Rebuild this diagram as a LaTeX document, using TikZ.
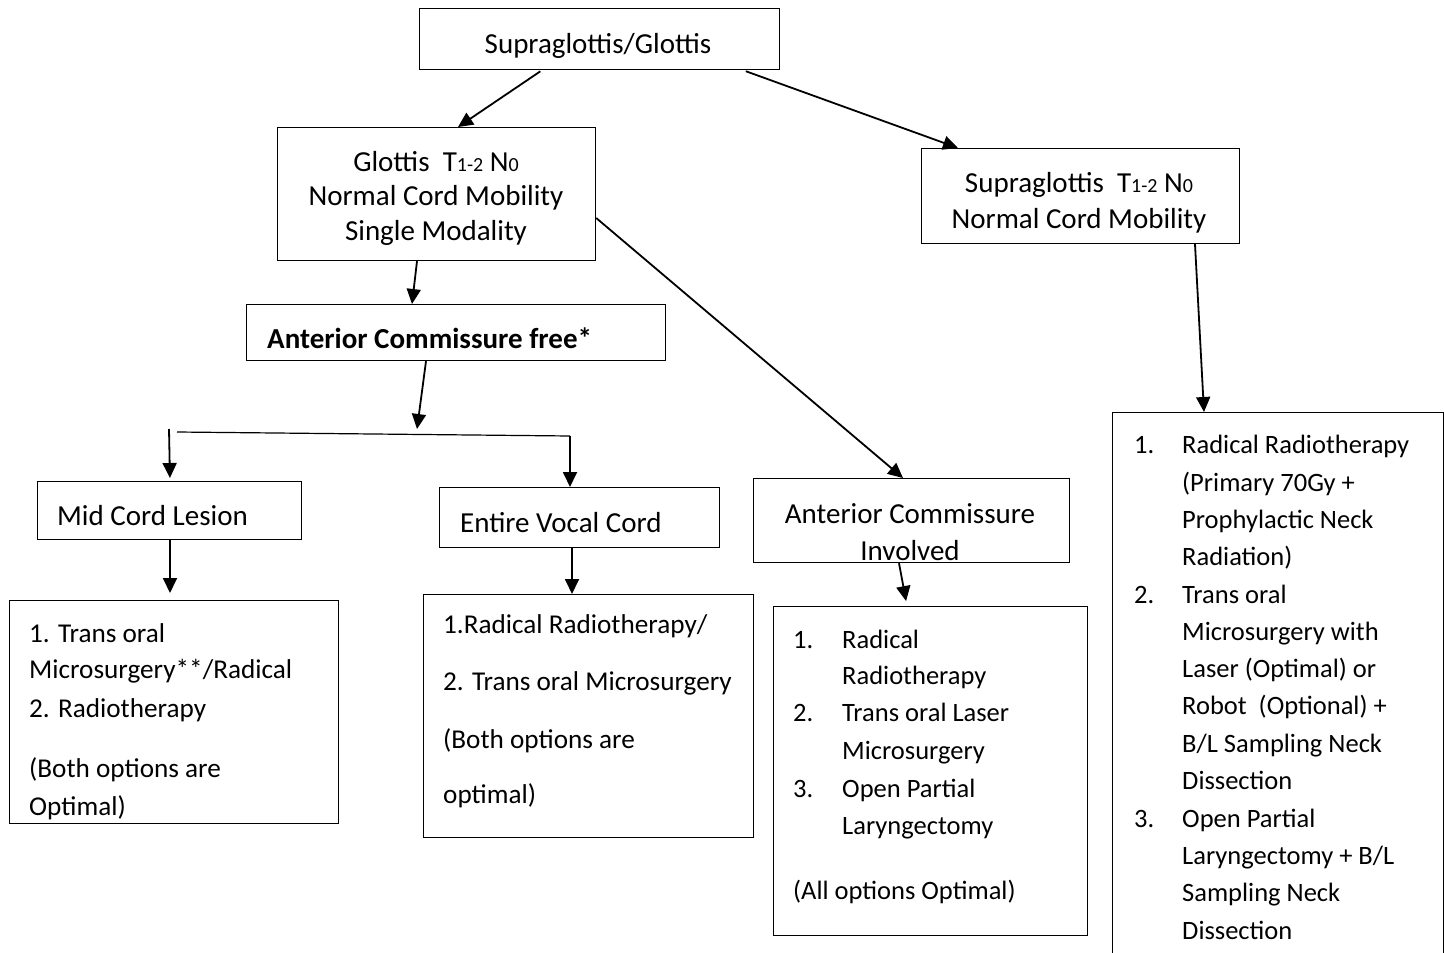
\documentclass[tikz,border=0pt]{standalone}
\usepackage{fontspec}
\setmainfont{Carlito}
\usetikzlibrary{arrows.meta}
\newcommand\smn[1]{{\fontsize{20}{20}\selectfont #1}}
\begin{document}
\begin{tikzpicture}[x=1pt,y=-1pt,
  box/.style={draw, line width=1.2pt, anchor=north west, inner sep=0pt},
  hd/.style={font=\fontsize{29}{35}\selectfont, inner sep=0pt},
  ls/.style={font=\fontsize{26.5}{32}\selectfont, inner sep=0pt, anchor=base west},
  lsb/.style={ls, font=\fontsize{27.2}{32}\selectfont},
  arr/.style={line width=1.8pt, -{Triangle[length=15pt,width=14pt]}},
  thinline/.style={line width=1.2pt}
]
\fill[white] (0,0) rectangle (1444,953);
\useasboundingbox (0,0) rectangle (1444,953);

% boxes
\node[box, minimum width=360pt, minimum height=61pt] (A) at (419,8) {};
\node[box, minimum width=318pt, minimum height=133pt] (B) at (277,127) {};
\node[box, minimum width=318pt, minimum height=95pt] (C) at (921,148) {};
\node[box, minimum width=419pt, minimum height=56pt] (D) at (246,304) {};
\node[box, minimum width=264pt, minimum height=58pt] (E) at (37,481) {};
\node[box, minimum width=280pt, minimum height=60pt] (F) at (439,487) {};
\node[box, minimum width=316pt, minimum height=84pt] (G) at (753,478) {};
\node[box, minimum width=329pt, minimum height=223pt] (H) at (9,600) {};
\node[box, minimum width=330pt, minimum height=243pt] (I) at (423,594) {};
\node[box, minimum width=314pt, minimum height=329pt] (J) at (773,606) {};
\node[box, minimum width=331pt, minimum height=560pt] (K) at (1112,412) {};

% header texts
\node[hd, anchor=base] (tA) at (598,53) {Supraglottis/Glottis};
\node[hd, anchor=base] (tB1) at (436,171) {Glottis\ \ T\smn{1-2} N\smn{0}};
\node[hd, anchor=base] (tB2) at (436,205) {Normal Cord Mobility};
\node[hd, anchor=base] (tB3) at (436,240) {Single Modality};
\node[hd, anchor=base] (tC1) at (1079,192) {Supraglottis\ \ T\smn{1-2} N\smn{0}};
\node[hd, anchor=base] (tC2) at (1079,228) {Normal Cord Mobility};
\node[hd, anchor=base west, font=\fontsize{29}{35}\selectfont\bfseries] (tD) at (267,348) {Anterior Commissure free*};
\node[hd, anchor=base west] (tE) at (57,525) {Mid Cord Lesion};
\node[hd, anchor=base west] (tF) at (460,532) {Entire Vocal Cord};
\node[hd, anchor=base] (tG1) at (910,523) {Anterior Commissure};
\node[hd, anchor=base] (tG2) at (910,560) {Involved};

% H texts
\node[lsb] (h1) at (29,642) {1. Trans oral};
\node[lsb] (h2) at (29,678) {Microsurgery**/Radical};
\node[lsb] (h3) at (29,717) {2. Radiotherapy};
\node[lsb] (h4) at (29,777) {(Both options are};
\node[lsb] (h5) at (29,815) {Optimal)};

% I texts
\node[lsb] (i1) at (443,633) {1.Radical Radiotherapy/};
\node[lsb] (i2) at (443,690) {2. Trans oral Microsurgery};
\node[lsb] (i3) at (443,748) {(Both options are};
\node[lsb] (i4) at (443,803) {optimal)};

% J texts
\node[ls] (jn1) at (793,648) {1.};
\node[ls] (j1t) at (842,648) {Radical};
\node[ls] (j2t) at (842,684) {Radiotherapy};
\node[ls] (jn2) at (793,721) {2.};
\node[ls] (j3t) at (842,721) {Trans oral Laser};
\node[ls] (j4t) at (842,759) {Microsurgery};
\node[ls] (jn3) at (793,797) {3.};
\node[ls] (j5t) at (842,797) {Open Partial};
\node[ls] (j6t) at (842,834) {Laryngectomy};
\node[ls] (j7t) at (793,899) {(All options Optimal)};

% K texts
\node[ls] (kn1) at (1134,453) {1.};
\node[ls] (k1) at (1182,453) {Radical Radiotherapy};
\node[ls] (k2) at (1182,491) {(Primary 70Gy +};
\node[ls] (k3) at (1182,528) {Prophylactic Neck};
\node[ls] (k4) at (1182,565) {Radiation)};
\node[ls] (kn2) at (1134,603) {2.};
\node[ls] (k5) at (1182,603) {Trans oral};
\node[ls] (k6) at (1182,640) {Microsurgery with};
\node[ls] (k7) at (1182,677) {Laser (Optimal) or};
\node[ls] (k8) at (1182,714) {Robot\ \ (Optional) +};
\node[ls] (k9) at (1182,752) {B/L Sampling Neck};
\node[ls] (k10) at (1182,789) {Dissection};
\node[ls] (kn3) at (1134,827) {3.};
\node[ls] (k11) at (1182,827) {Open Partial};
\node[ls] (k12) at (1182,864) {Laryngectomy + B/L};
\node[ls] (k13) at (1182,901) {Sampling Neck};
\node[ls] (k14) at (1182,939) {Dissection};

% free ends
\coordinate (c1) at (417,429);
\coordinate (c2) at (177,432);
\coordinate (c3) at (570,436);
\coordinate (c4) at (169,429);

% connectors
\draw[arr, shorten <=2pt] (A.south -| 542,0) -- (B.north -| 458,0);
\draw[arr, shorten <=3pt] (A.south -| 743,0) -- (C.north -| 958,0);
\draw[arr] (B.south -| 417,0) -- (D.north -| 412,0);
\draw[arr] (B.east |- 0,218) -- (G.north -| 903,0);
\draw[arr] (C.south -| 1195,0) -- (K.north -| 1204,0);
\draw[arr] (D.south -| 426,0) -- (c1);
\draw[thinline] (c2) -- (c3);
\draw[arr] (c3) -- (F.north -| 570,0);
\draw[arr, shorten >=3pt] (c4) -- (E.north -| 170,0);
\draw[arr, shorten >=7pt] (E.south -| 170,0) -- (H.north -| 170,0);
\draw[arr] (F.south -| 572,0) -- (I.north -| 572,0);
\draw[arr, shorten >=5pt] (G.south -| 899,0) -- (J.north -| 907,0);
\end{tikzpicture}
\end{document}
